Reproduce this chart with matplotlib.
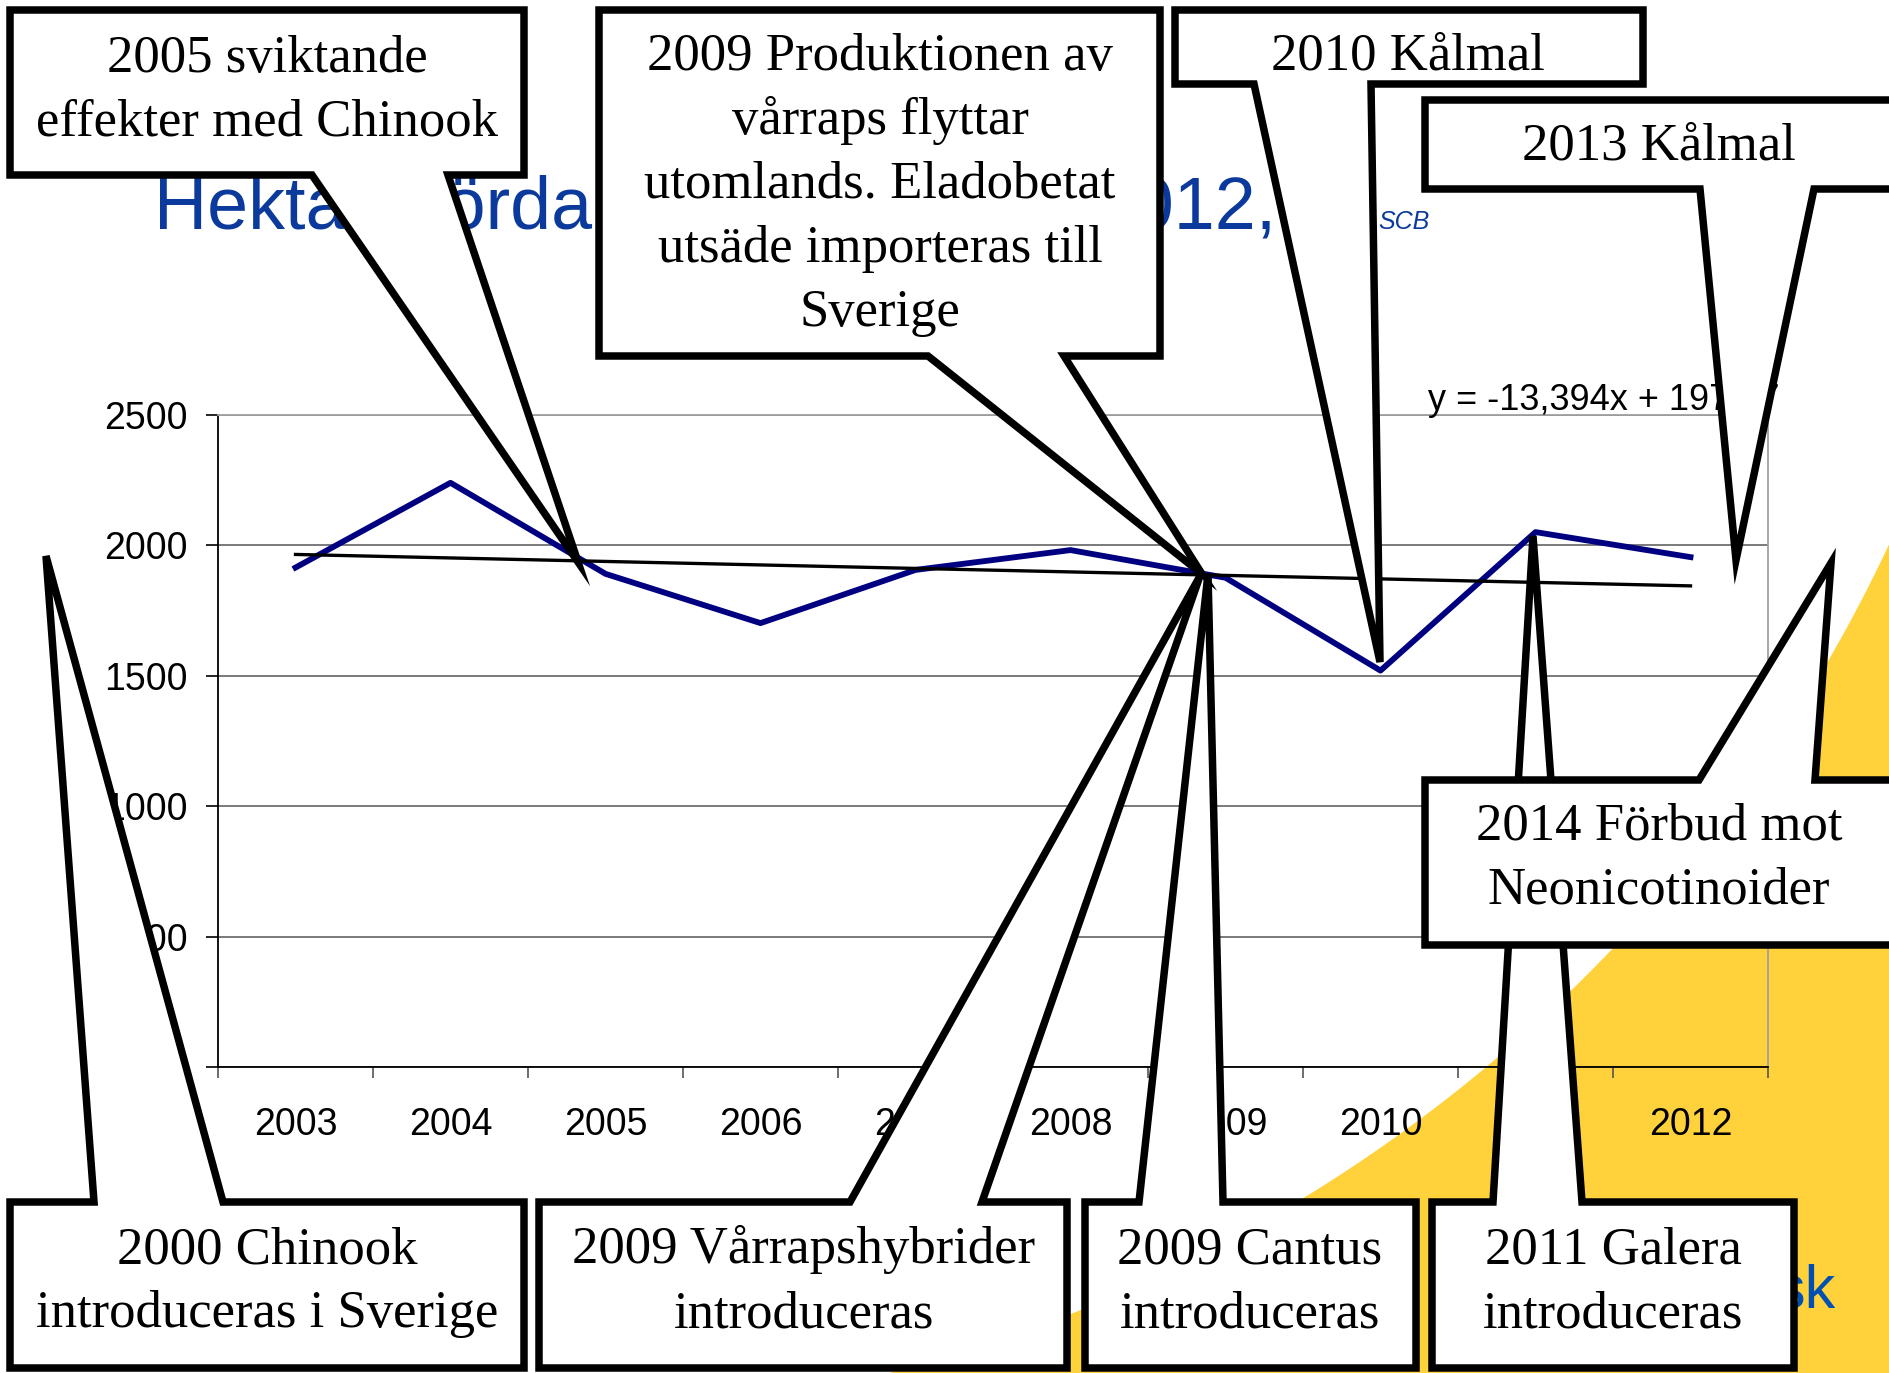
import numpy as np
import matplotlib.pyplot as plt
from matplotlib.patches import Polygon

W, H = 1890, 1373

# data
years = ['2003', '2004', '2005', '2006', '2007', '2008', '2009', '2010', '2011', '2012']
yield_kg = [1915, 2240, 1891, 1702, 1906, 1982, 1876, 1520, 2051, 1955]
trend_slope = -13.394
trend_intercept = 1978.7
y_ticks = [0, 500, 1000, 1500, 2000, 2500]
trend_label = 'y = -13,394x + 1978,7'

title = 'Hektarskördar vårraps 2003-2012,'
source = 'SCB'

# callout texts, in drawing order (2011 must be under 2014)
callout_texts = [
    ['2005 sviktande', 'effekter med Chinook'],
    ['2009 Produktionen av', 'vårraps flyttar', 'utomlands. Eladobetat', 'utsäde importeras till', 'Sverige'],
    ['2010 Kålmal'],
    ['2013 Kålmal'],
    ['2000 Chinook', 'introduceras i Sverige'],
    ['2009 Vårrapshybrider', 'introduceras'],
    ['2009 Cantus', 'introduceras'],
    ['2011 Galera', 'introduceras'],
    ['2014 Förbud mot', 'Neonicotinoider'],
]

# layout in figure pixels: box (x0, y0, x1, y1), tail base (xa, xb), tip, side of tail, text x, first baseline
layout = [
    ((10, 10, 524, 175), (312, 448), (578, 562), 'bottom', 267, 72),
    ((599, 10, 1160, 356), (928, 1064), (1202, 574), 'bottom', 880, 70),
    ((1175, 10, 1643, 84), (1254, 1371), (1380, 662), 'bottom', 1408, 70),
    ((1425, 100, 1905, 189), (1700, 1814), (1736, 560), 'bottom', 1659, 159),
    ((10, 1202, 524, 1368), (94, 223), (46, 556), 'top', 267, 1263),
    ((539, 1202, 1067, 1368), (850, 982), (1200, 576), 'top', 804, 1263),
    ((1085, 1202, 1416, 1368), (1139, 1223), (1208, 574), 'top', 1250, 1263),
    ((1432, 1202, 1794, 1368), (1493, 1582), (1533, 536), 'top', 1613, 1263),
    ((1425, 780, 1905, 945), (1699, 1815), (1831, 563), 'top', 1659, 840),
]
line_gap = 64

fig = plt.figure(figsize=(W / 100, H / 100), dpi=100)

# background with the yellow corner
ax_bg = fig.add_axes([0, 0, 1, 1])
ax_bg.set_xlim(0, W)
ax_bg.set_ylim(H, 0)
ax_bg.axis('off')
ax_bg.set_zorder(0)
cx, cy, r = 510, -102, 1523
ang = np.radians(np.linspace(18, 82, 200))
arc = np.column_stack([cx + r * np.cos(ang), cy + r * np.sin(ang)])
arc = np.vstack([arc, [[3000, 3000], [3000, -500]]])
ax_bg.add_patch(Polygon(arc, closed=True, fc='#FFD13B', ec='none'))

ax_bg.text(154, 229, title, fontsize=53, color='#0B3A9C', family='Liberation Sans',
           ha='left', va='baseline')
ax_bg.text(1378, 229, source, fontsize=18, color='#0B3A9C', family='Liberation Sans',
           style='italic', ha='left', va='baseline')
ax_bg.text(1836, 1308, 'sk', fontsize=44, color='#0050B4', family='Liberation Sans',
           ha='right', va='baseline')

# chart
ax = fig.add_axes([218 / W, 1 - 1067 / H, 1550 / W, 652 / H])
ax.set_zorder(1)
ax.patch.set_alpha(0)
x = np.arange(len(years))
ax.plot(x, yield_kg, color='#000080', lw=4.2, zorder=3)
tx = np.arange(1, len(years) + 1)
ax.plot(x, trend_slope * tx + trend_intercept, color='black', lw=2.4, zorder=3)
ax.set_xlim(-0.5, len(years) - 0.5)
ax.set_ylim(0, 2500)

ax.set_xticks(np.arange(-0.5, len(years), 1))
ax.set_xticklabels([])
ax.set_xticks(x, minor=True)
ax.set_xticklabels(years, minor=True)
ax.tick_params(axis='x', which='major', length=8, width=1.2, direction='out', color='#555555')
ax.tick_params(axis='x', which='minor', length=0, pad=29, labelsize=27)
ax.set_yticks(y_ticks)
ax.tick_params(axis='y', length=8.6, width=1.2, direction='out', pad=13, labelsize=27)
for lab in ax.get_xticklabels(minor=True) + ax.get_yticklabels():
    lab.set_family('Liberation Sans')

ax.yaxis.grid(True, color='#707070', lw=1.3)
ax.set_axisbelow(True)
for s in ['left', 'bottom']:
    ax.spines[s].set_color('black')
    ax.spines[s].set_linewidth(1.3)
for s in ['top', 'right']:
    ax.spines[s].set_color('#a0a0a0')
    ax.spines[s].set_linewidth(1.3)

ax.text(1428, 410, trend_label, transform=ax_bg.transData, fontsize=26,
        family='Liberation Sans', ha='left', va='baseline', zorder=4)

# callouts on top
ax_top = fig.add_axes([0, 0, 1, 1])
ax_top.set_xlim(0, W)
ax_top.set_ylim(H, 0)
ax_top.axis('off')
ax_top.set_zorder(2)

for z, (lines, (box, base, tip, side, tx_c, base_y)) in enumerate(zip(callout_texts, layout)):
    x0, y0, x1, y1 = box
    b1, b2 = base
    if side == 'bottom':
        pts = [(x0, y0), (x1, y0), (x1, y1), (b2, y1), tip, (b1, y1), (x0, y1)]
    else:
        pts = [(x0, y0), (b1, y0), tip, (b2, y0), (x1, y0), (x1, y1), (x0, y1)]
    ax_top.add_patch(Polygon(pts, closed=True, fc='white', ec='black', lw=5.4,
                             joinstyle='miter', zorder=2 * z + 1))
    for i, line in enumerate(lines):
        ax_top.text(tx_c, base_y + i * line_gap, line, fontsize=38, family='Liberation Serif',
                    ha='center', va='baseline', zorder=2 * z + 2)

fig.savefig('out.png', dpi=100)
